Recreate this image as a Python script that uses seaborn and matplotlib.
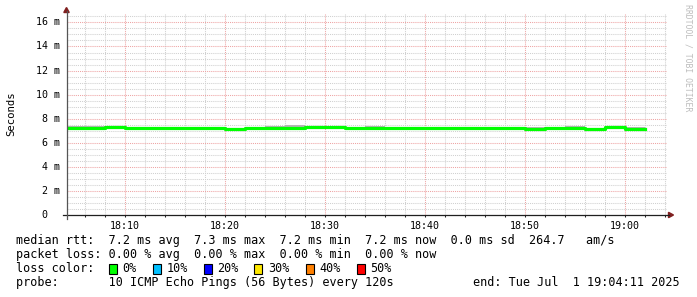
import matplotlib
matplotlib.use("Agg")
import matplotlib.pyplot as plt
from matplotlib.patches import Rectangle, Polygon
from matplotlib.lines import Line2D
import matplotlib.ticker as mticker
import pandas as pd
import seaborn as sns

# ---------------- data ----------------
DAY = "2025-07-01 "
step_times = ["18:04", "18:06", "18:08", "18:10", "18:12", "18:14", "18:16", "18:18",
              "18:20", "18:22", "18:24", "18:26", "18:28", "18:30", "18:32", "18:34",
              "18:36", "18:38", "18:40", "18:42", "18:44", "18:46", "18:48", "18:50",
              "18:52", "18:54", "18:56", "18:58", "19:00"]
step_end = "19:02"
median_ms = [7.22, 7.21, 7.35, 7.24, 7.23, 7.22, 7.22, 7.22,
             7.13, 7.20, 7.22, 7.24, 7.35, 7.35, 7.26, 7.24,
             7.21, 7.21, 7.19, 7.20, 7.21, 7.21, 7.21, 7.18,
             7.20, 7.22, 7.15, 7.27, 7.18]
smoke_lo_ms = [7.18, 7.12, 7.30, 7.20, 7.19, 7.18, 7.18, 7.18,
               7.09, 7.16, 7.18, 7.20, 7.30, 7.30, 7.22, 7.20,
               7.17, 7.17, 7.15, 7.16, 7.17, 7.17, 7.17, 7.14,
               7.16, 7.18, 7.06, 7.23, 7.14]
smoke_hi_ms = [7.42, 7.36, 7.40, 7.28, 7.27, 7.26, 7.26, 7.26,
               7.17, 7.24, 7.40, 7.44, 7.42, 7.42, 7.32, 7.42,
               7.25, 7.25, 7.33, 7.24, 7.25, 7.25, 7.25, 7.32,
               7.24, 7.38, 7.19, 7.31, 7.32]
y_ticks_ms = [0, 2, 4, 6, 8, 10, 12, 14, 16]
y_tick_labels = ["0", "2 m", "4 m", "6 m", "8 m", "10 m", "12 m", "14 m", "16 m"]
x_tick_labels = ["18:10", "18:20", "18:30", "18:40", "18:50", "19:00"]
view_start = "18:04:11"
view_end = "19:04:11"

loss_labels = ["0%", "10%", "20%", "30%", "40%", "50%"]
loss_colors = ["#00ff00", "#00c0ff", "#0000ff", "#ffe800", "#ff8000", "#ff0000"]

line_median = "median rtt:  7.2 ms avg  7.3 ms max  7.2 ms min  7.2 ms now  0.0 ms sd  264.7   am/s"
line_loss = "packet loss: 0.00 % avg  0.00 % max  0.00 % min  0.00 % now"
line_color_title = "loss color:"
line_probe = "probe:       10 ICMP Echo Pings (56 Bytes) every 120s"
line_end = "end: Tue Jul  1 19:04:11 2025"

# ---------------- frame ----------------
times = pd.to_datetime([DAY + t for t in step_times + [step_end]])
df = pd.DataFrame({
    "time": times,
    "median": median_ms + [median_ms[-1]],
    "lo": smoke_lo_ms + [smoke_lo_ms[-1]],
    "hi": smoke_hi_ms + [smoke_hi_ms[-1]],
})

W, H = 697, 297
MONO = "DejaVu Sans Mono"
fig = plt.figure(figsize=(W / 100, H / 100), dpi=100)
fig.patch.set_facecolor("white")

ax_l, ax_r, ax_t, ax_b = 66.5, 666.5, 14, 215
ax = fig.add_axes([ax_l / W, (H - ax_b) / H, (ax_r - ax_l) / W, (ax_b - ax_t) / H])
ax.set_facecolor("white")

ax.fill_between(df["time"], df["lo"], df["hi"], step="post", color="#b4b4b4",
                linewidth=0, zorder=2)
sns.lineplot(data=df, x="time", y="median", drawstyle="steps-post", color="#00ff00",
             linewidth=2.3, ax=ax, zorder=3, legend=False)

ax.set_xlim(pd.Timestamp(DAY + view_start), pd.Timestamp(DAY + view_end))
ax.set_ylim(0, 16.7)

# grid
xt = pd.to_datetime([DAY + t for t in x_tick_labels])
ax.set_xticks(xt, labels=x_tick_labels)
ax.xaxis.set_minor_locator(matplotlib.dates.MinuteLocator(byminute=range(0, 60, 2)))
ax.set_yticks(y_ticks_ms)
ax.yaxis.set_minor_locator(mticker.MultipleLocator(0.5))
ax.set_yticklabels([])
ax.grid(which="minor", color="#d0d0d0", linestyle=(0, (1, 1)), linewidth=0.75)
ax.grid(which="major", color="#eea4a4", linestyle=(0, (1, 1)), linewidth=0.75)
ax.set_axisbelow(True)
for s in ax.spines.values():
    s.set_visible(False)
ax.tick_params(axis="x", which="both", length=1.6, width=0.75, color="#1f1f1f",
               pad=2.6, labelsize=7.2, labelcolor="black")
ax.tick_params(axis="y", which="both", length=0)
for lab in ax.get_xticklabels():
    lab.set_family(MONO)
ax.set_xlabel("")
ax.set_ylabel("")

# y tick labels (right-aligned like rrdtool, "0" padded)
ytrans = ax.get_yaxis_transform()
for v, lab in zip(y_ticks_ms, y_tick_labels):
    xoff = (59.5 - ax_l) / (ax_r - ax_l) if lab != "0" else (47.0 - ax_l) / (ax_r - ax_l)
    ax.text(xoff, v, lab, transform=ytrans, ha="right", va="center", family=MONO,
            fontsize=7.2, color="black", clip_on=False)

# axis lines and arrows (pixel coords)
def px(x, y):
    return (x / W, (H - y) / H)

axis_col = "#1f1f1f"
fig.add_artist(Line2D([px(62.5, 215)[0], px(669, 215)[0]], [px(0, 215)[1]] * 2,
                      color=axis_col, linewidth=0.9))
fig.add_artist(Line2D([px(66.5, 0)[0]] * 2, [px(0, 219)[1], px(0, 11)[1]],
                      color="#555555", linewidth=0.9))
arrow_col = "#801f1f"
fig.add_artist(Polygon([px(63.8, 12.5), px(69.2, 12.5), px(66.5, 7.5)], closed=True,
                       color=arrow_col, transform=fig.transFigure))
fig.add_artist(Polygon([px(668.5, 212.3), px(668.5, 217.7), px(673.5, 215)], closed=True,
                       color=arrow_col, transform=fig.transFigure))

# titles
fig.text(*px(11, 114), "Seconds", rotation=90, ha="center", va="center",
         family=MONO, fontsize=7.7, color="black")
fig.text(*px(688, 4), "RRDTOOL / TOBI OETIKER", rotation=-90, ha="center", va="top",
         family=MONO, fontsize=5.9, color="#bdbdbd")

# legend / comments
fs = 8.5
fig.text(*px(16, 244), line_median, ha="left", va="baseline", family=MONO, fontsize=fs)
fig.text(*px(16, 258), line_loss, ha="left", va="baseline", family=MONO, fontsize=fs)
fig.text(*px(16, 272), line_color_title, ha="left", va="baseline", family=MONO, fontsize=fs)
fig.text(*px(16, 286), line_probe, ha="left", va="baseline", family=MONO, fontsize=fs)
fig.text(*px(680, 286), line_end, ha="right", va="baseline", family=MONO, fontsize=fs)

box_x = [108.3, 152.3, 203.3, 254.0, 305.0, 356.0]
for bx, lab, col in zip(box_x, loss_labels, loss_colors):
    x0, y0 = px(bx + 0.5, 274.3)
    fig.add_artist(Rectangle((x0, y0), 8.0 / W, 10.0 / H, facecolor=col,
                             edgecolor="black", linewidth=0.8,
                             transform=fig.transFigure))
    fig.text(*px(bx + 14.2, 272), lab, ha="left", va="baseline", family=MONO, fontsize=fs)

fig.savefig("out.png", dpi=100, facecolor="white")
